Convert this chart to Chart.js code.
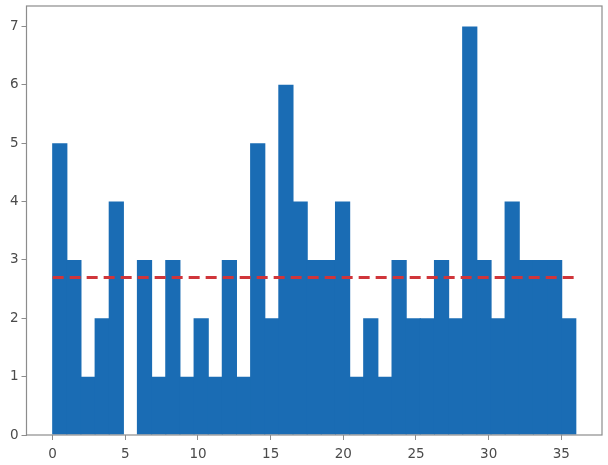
<!DOCTYPE html>
<html>
<head>
<meta charset="utf-8">
<style>
  html, body { margin: 0; padding: 0; background: #fff; }
  #wrap { width: 608px; height: 465px; overflow: hidden; }
  /* the reference is a soft video frame */
  canvas { filter: blur(0.5px); }
</style>
<script src="https://cdn.jsdelivr.net/npm/chart.js@4"></script>
</head>
<body>
<div id="wrap"><canvas id="chart" width="608" height="465"></canvas></div>
<script>
// histogram bins
const binCenters = [0.49, 1.46, 2.43, 3.41, 4.38, 5.35, 6.32, 7.30, 8.27, 9.24, 10.22, 11.19, 12.16,
    13.14, 14.11, 15.08, 16.05, 17.03, 18.00, 18.97, 19.95, 20.92, 21.89, 22.86, 23.84, 24.81,
    25.78, 26.76, 27.73, 28.70, 29.68, 30.65, 31.62, 32.59, 33.57, 34.54, 35.51];
const counts = [5, 3, 1, 2, 4, 0, 3, 1, 3, 1, 2, 1, 3, 1, 5, 2, 6, 4, 3, 3, 4, 1, 2, 1, 3, 2, 2, 3, 2, 7, 3, 2, 4, 3, 3, 3, 2];

// dashed mean line
const meanX = [0, 36];
const meanY = [2.7, 2.7];

const xTicks = [0, 5, 10, 15, 20, 25, 30, 35];
const yTicks = [0, 1, 2, 3, 4, 5, 6, 7];

const inkColor = '#4a4a4a';
const frameColor = '#8c8c8c';

// top and right sides of the frame
const framePlugin = {
    id: 'frame',
    afterDraw(chart) {
        const { ctx, chartArea: a } = chart;
        ctx.save();
        ctx.strokeStyle = frameColor;
        ctx.lineWidth = 1.2;
        ctx.strokeRect(a.left, a.top, a.right - a.left, a.bottom - a.top);
        ctx.restore();
    }
};

new Chart(document.getElementById('chart'), {
    data: {
        datasets: [
            {
                type: 'line',
                data: meanX.map((x, i) => ({ x: x, y: meanY[i] })),
                borderColor: '#d0353a',
                borderWidth: 3,
                borderDash: [11, 6],
                pointRadius: 0,
                order: 1
            },
            {
                type: 'bar',
                data: binCenters.map((x, i) => ({ x: x, y: counts[i] })),
                backgroundColor: '#1a6cb4',
                borderWidth: 0,
                barPercentage: 1.08, // overlap hides the seams between bins
                categoryPercentage: 1,
                inflateAmount: 0,
                order: 2
            }
        ]
    },
    options: {
        responsive: false,
        animation: false,
        layout: { padding: { top: 6, right: 6, left: 0, bottom: 0 } },
        plugins: { legend: { display: false }, tooltip: { enabled: false } },
        scales: {
            x: {
                type: 'linear',
                offset: false,
                min: -1.8,
                max: 37.8,
                afterBuildTicks(axis) { axis.ticks = xTicks.map(v => ({ value: v })); },
                afterFit(axis) {
                    axis.height = 30;
                    axis.paddingLeft = 0;
                    axis.paddingRight = 0;
                },
                grid: { offset: false, display: true, drawOnChartArea: false, drawTicks: true, tickLength: 5, color: frameColor },
                border: { display: false },
                ticks: {
                    autoSkip: false,
                    maxRotation: 0,
                    padding: 6,
                    color: inkColor,
                    font: { family: 'DejaVu Sans', size: 13.5 }
                }
            },
            y: {
                type: 'linear',
                min: 0,
                max: 7.35,
                afterBuildTicks(axis) { axis.ticks = yTicks.map(v => ({ value: v })); },
                afterFit(axis) {
                    axis.width = 26.5;
                    axis.paddingTop = 0;
                    axis.paddingBottom = 0;
                },
                grid: { display: true, drawOnChartArea: false, drawTicks: true, tickLength: 5, color: frameColor },
                border: { display: false },
                ticks: {
                    autoSkip: false,
                    padding: 3,
                    color: inkColor,
                    font: { family: 'DejaVu Sans', size: 13.5 }
                }
            }
        }
    },
    plugins: [framePlugin]
});
</script>
</body>
</html>
